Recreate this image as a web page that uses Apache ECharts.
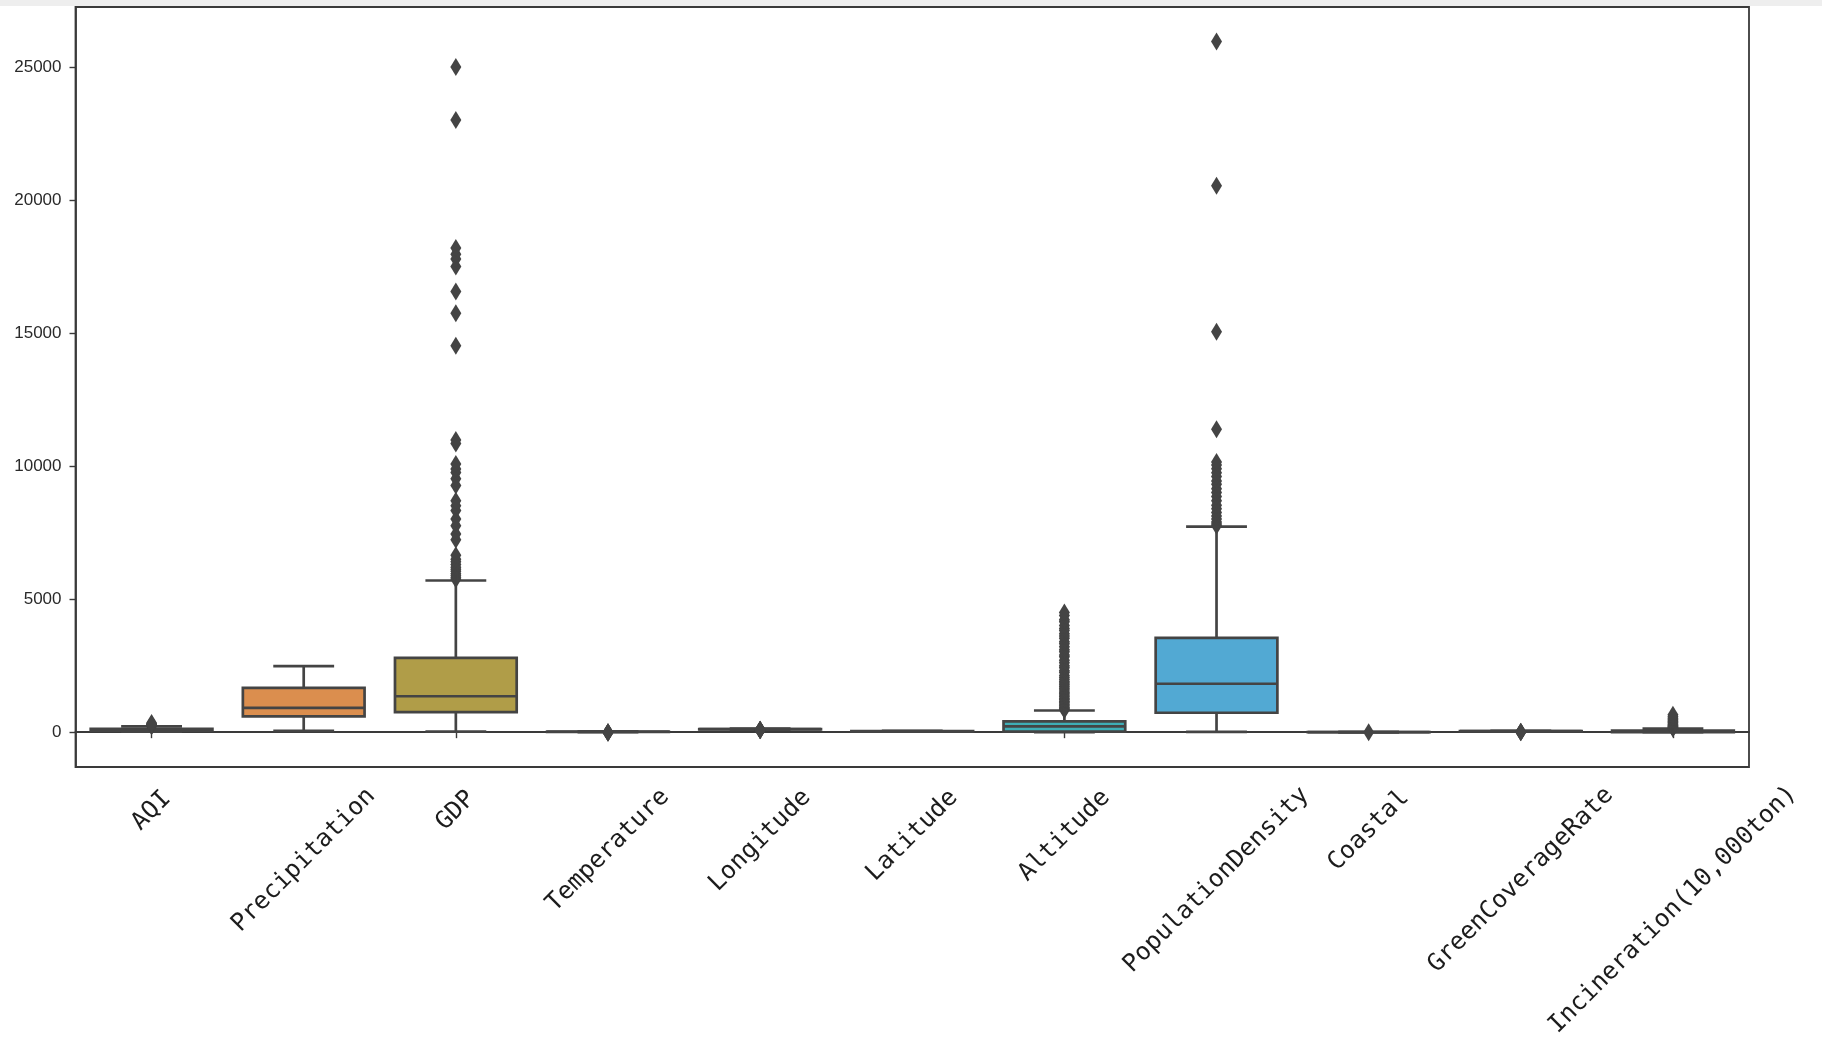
<!DOCTYPE html>
<html>
<head>
<meta charset="utf-8">
<script src="https://cdn.jsdelivr.net/npm/echarts@6/dist/echarts.min.js"></script>
<style>
html,body{margin:0;padding:0;background:#fff;}
#chart{width:1822px;height:1049px;}
</style>
</head>
<body>
<div id="chart"></div>
<script>
const categories = ['AQI','Precipitation','GDP','Temperature','Longitude','Latitude','Altitude','PopulationDensity','Coastal','GreenCoverageRate','Incineration(10,000ton)'];
const lowerWhisker = [20, 50, 20, 3, 97, 18, 0, 10, 0, 28, 0];
const q1Values     = [55, 590, 750, 12, 108, 26, 20, 730, 0, 36, 5];
const medianValues = [75, 916, 1350, 16, 114, 30.5, 214, 1820, 0, 40, 20];
const q3Values     = [120, 1667, 2795, 20, 119, 36, 402, 3545, 0, 43, 55];
const upperWhisker = [215, 2480, 5700, 28, 131, 50, 815, 7720, 0, 52, 130];
const yTicks = [0, 5000, 10000, 15000, 20000, 25000];

const aqiOutliers = [225, 240, 255, 270, 290, 310, 340];
const precipitationOutliers = [];
const gdpOutliers = [5750, 5800, 5880, 5950, 6050, 6120, 6200, 6300, 6400, 6500, 6650, 7230, 7450, 7760, 8010, 8330, 8510, 8700, 9270, 9520, 9760, 9890, 10080, 10850, 10980, 14520, 15740, 16560, 17500, 17780, 17960, 18190, 23000, 25000];
const temperatureOutliers = [-20, -15, -10, -5, 0];
const longitudeOutliers = [75, 80, 84, 87, 88, 91];
const latitudeOutliers = [];
const altitudeOutliers = [830, 870, 905, 950, 1010, 1060, 1120, 1160, 1230, 1270, 1340, 1400, 1460, 1510, 1580, 1650, 1720, 1780, 1850, 1900, 1980, 2050, 2130, 2240, 2310, 2420, 2500, 2610, 2700, 2830, 2900, 3020, 3100, 3210, 3320, 3400, 3530, 3610, 3700, 3820, 3900, 4010, 4150, 4220, 4380, 4500];
const popDensityOutliers = [7760, 7820, 7900, 8010, 8120, 8250, 8400, 8530, 8700, 8860, 9010, 9150, 9320, 9440, 9610, 9750, 9900, 10040, 10150, 11380, 15050, 20530, 25950];
const coastalOutliers = [1];
const greenCoverageOutliers = [0, 2, 8, 15];
const incinerationOutliers = [140, 160, 185, 205, 230, 260, 300, 340, 385, 420, 470, 520, 580, 650];

const outlierLists = [aqiOutliers, precipitationOutliers, gdpOutliers, temperatureOutliers, longitudeOutliers, latitudeOutliers, altitudeOutliers, popDensityOutliers, coastalOutliers, greenCoverageOutliers, incinerationOutliers];
const boxColors = ['#db7f8e','#db8e4e','#b09d48','#8aa349','#4fa97a','#4da79b','#3eadb6','#52a9d3','#9b9ce0','#c98bd8','#dc7fbf'];
const lineColor = '#444444';
const LW = 2.7;
const yMin = -1309, yMax = 27250;

const boxData = categories.map((c, i) => [i, lowerWhisker[i], q1Values[i], medianValues[i], q3Values[i], upperWhisker[i]]);
const flierData = [];
outlierLists.forEach((arr, i) => arr.forEach(v => flierData.push([i, v])));

function renderBox(params, api) {
  const i = api.value(0);
  const lo = api.coord([i, api.value(1)]);
  const b1 = api.coord([i, api.value(2)]);
  const md = api.coord([i, api.value(3)]);
  const b3 = api.coord([i, api.value(4)]);
  const hi = api.coord([i, api.value(5)]);
  const band = api.size([1, 0])[0];
  const bw = band * 0.8, cw = bw * 0.5;
  const x = lo[0];
  const ls = {stroke: lineColor, lineWidth: LW};
  return {type: 'group', children: [
    {type: 'line', shape: {x1: x, y1: b3[1], x2: x, y2: hi[1]}, style: ls},
    {type: 'line', shape: {x1: x, y1: b1[1], x2: x, y2: lo[1]}, style: ls},
    {type: 'line', shape: {x1: x - cw/2, y1: hi[1], x2: x + cw/2, y2: hi[1]}, style: ls},
    {type: 'line', shape: {x1: x - cw/2, y1: lo[1], x2: x + cw/2, y2: lo[1]}, style: ls},
    {type: 'rect', shape: {x: x - bw/2, y: b3[1], width: bw, height: Math.max(b1[1] - b3[1], 0.01)},
      style: {fill: boxColors[i], stroke: lineColor, lineWidth: LW}},
    {type: 'line', shape: {x1: x - bw/2, y1: md[1], x2: x + bw/2, y2: md[1]}, style: ls}
  ]};
}

const chart = echarts.init(document.getElementById('chart'));
chart.setOption({
  animation: false,
  backgroundColor: '#ffffff',
  grid: {left: 75.5, right: 73, top: 7, bottom: 282, show: true, borderColor: '#3a3a3a', borderWidth: 1.8, containLabel: false},
  xAxis: {
    type: 'category', data: categories, boundaryGap: true,
    axisLine: {show: true, lineStyle: {color: '#3a3a3a', width: 1.8}},
    axisTick: {show: true, alignWithLabel: true, length: 6, lineStyle: {color: '#3a3a3a', width: 1.4}},
    axisLabel: {show: false},
    splitLine: {show: false}
  },
  yAxis: {
    type: 'value', min: yMin, max: yMax,
    axisLine: {show: true, lineStyle: {color: '#3a3a3a', width: 1.8}},
    axisTick: {show: true, length: 6, customValues: yTicks, lineStyle: {color: '#3a3a3a', width: 1.4}},
    axisLabel: {show: true, customValues: yTicks, margin: 14, fontSize: 17, color: '#2a2a2a',
      fontFamily: '"Liberation Sans", Arial, sans-serif', formatter: v => String(v)},
    splitLine: {show: false}
  },
  series: [
    {type: 'custom', renderItem: renderBox, data: boxData, encode: {x: 0, y: [1,2,3,4,5]}, z: 2},
    {type: 'scatter', data: flierData, symbol: 'diamond', symbolSize: [11, 18],
      itemStyle: {color: lineColor, opacity: 1}, z: 3}
  ]
});

// x-axis labels, rotated 45deg and centred under each tick (as in the original)
const FONT = '24.5px "DejaVu Sans Mono", "Liberation Mono", monospace';
const ctx = document.createElement('canvas').getContext('2d');
ctx.font = FONT;
const baseY = chart.convertToPixel({yAxisIndex: 0}, yMin);
const labelEls = categories.map((c, i) => {
  const px = chart.convertToPixel({xAxisIndex: 0}, c);
  const w = ctx.measureText(c).width;
  return {
    type: 'text', x: px, y: baseY + 29 + 0.335 * w, rotation: Math.PI / 4,
    style: {text: c, font: FONT, fill: '#1c1c1c', align: 'center', verticalAlign: 'middle'}
  };
});
chart.setOption({
  graphic: [
    {type: 'rect', z: -10, shape: {x: 0, y: 0, width: 1822, height: 6}, style: {fill: '#eeeeee'}},
    ...labelEls
  ]
});
</script>
</body>
</html>
